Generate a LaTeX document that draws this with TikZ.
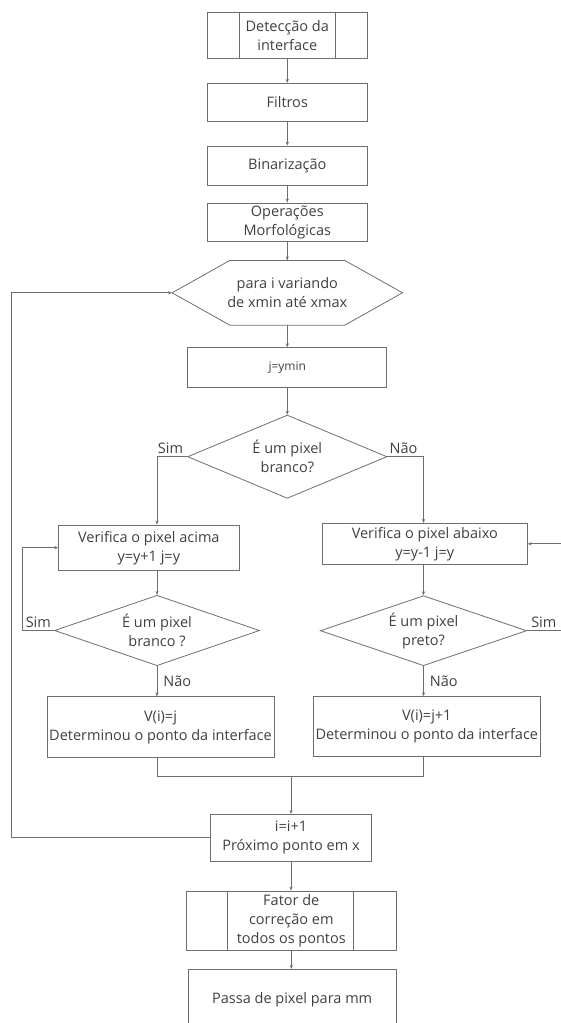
\documentclass[tikz,border=0pt]{standalone}
\usepackage{fontspec}
\setmainfont{Open Sans}
\usepackage{xcolor}
\usepackage{tikz}
\usetikzlibrary{shapes.geometric, arrows.meta, positioning}
\definecolor{LineGrey}{HTML}{6E6E6E}
\definecolor{TextGrey}{HTML}{404040}
\tikzset{
  box/.style={draw=LineGrey, line width=0.8pt, text=TextGrey, align=center, inner sep=2pt, font=\fontsize{14.5}{19}\selectfont},
  decision/.style={box, diamond, inner sep=0pt},
  plain/.style={text=TextGrey, align=center, inner sep=0pt, font=\fontsize{14.5}{19}\selectfont},
  lbl/.style={text=TextGrey, inner sep=1pt, font=\fontsize{14.5}{17}\selectfont},
  line/.style={draw=LineGrey, line width=0.8pt},
  arr/.style={line, -{Stealth[length=4pt,width=3.2pt]}}
}

\begin{document}
\begin{tikzpicture}[x=1pt, y=-1pt]
  \useasboundingbox (0,0) rectangle (561,1023);

  \node[box, minimum width=160pt, minimum height=46pt] (detect) at (287.3,35.3) {Detecção da\\interface};
  \node[box, minimum width=160pt, minimum height=38.4pt] (filtros) at (287.3,102.5) {Filtros};
  \node[box, minimum width=160pt, minimum height=39pt] (binar) at (287.3,165.5) {Binarização};
  \node[box, minimum width=160pt, minimum height=38.7pt] (morfo) at (287.3,222.3) {Operações\\Morfológicas};
  \node[plain, minimum width=230pt, minimum height=64.3pt] (hexa) at (287.3,292.8) {para i variando\\de xmin até xmax};
  \node[box, minimum width=199pt, minimum height=39.6pt, font=\fontsize{12}{14}\selectfont] (jmin) at (287.3,367.5) {j=ymin};
  \node[decision, aspect=2.4, minimum width=199.4pt, minimum height=83.3pt] (dec1) at (287.3,456.7) {É um pixel\\branco?};

  % ramo Sim
  \node[box, minimum width=180.3pt, minimum height=45.3pt] (acima) at (148.8,547.7) {Verifica o pixel acima\\y=y+1 j=y};
  \node[decision, aspect=2.9, minimum width=205pt, minimum height=70.4pt] (dec2) at (157,630.5) {É um pixel\\branco ?};
  \node[box, minimum width=227pt, minimum height=61pt] (vij) at (160.5,727.2) {V(i)=j\\Determinou o ponto da interface};

  % ramo Não
  \node[box, minimum width=205pt, minimum height=41pt] (abaixo) at (424.8,543.8) {Verifica o pixel abaixo\\y=y-1 j=y};
  \node[decision, aspect=2.9, minimum width=206.3pt, minimum height=70pt] (dec3) at (423.5,630.7) {É um pixel\\preto?};
  \node[box, minimum width=225pt, minimum height=60pt] (vij1) at (426.8,726.7) {V(i)=j+1\\Determinou o ponto da interface};

  \node[box, minimum width=160.3pt, minimum height=46.7pt] (proximo) at (291,837.7) {i=i+1\\Próximo ponto em x};
  \node[box, minimum width=209.3pt, minimum height=59.7pt] (fator) at (291.3,920.8) {Fator de\\correção em\\todos os pontos};
  \node[box, minimum width=207.7pt, minimum height=60pt] (passa) at (292.2,999.3) {Passa de pixel para mm};

  % formas
  \draw[line] (hexa.west) -- ([xshift=57.7pt]hexa.north west) -- ([xshift=-57.7pt]hexa.north east) -- (hexa.east)
    -- ([xshift=-57.7pt]hexa.south east) -- ([xshift=57.7pt]hexa.south west) -- cycle;
  \draw[line] ([xshift=32pt]detect.north west) -- ([xshift=32pt]detect.south west);
  \draw[line] ([xshift=-32pt]detect.north east) -- ([xshift=-32pt]detect.south east);
  \draw[line] ([xshift=41.6pt]fator.north west) -- ([xshift=41.6pt]fator.south west);
  \draw[line] ([xshift=-42.7pt]fator.north east) -- ([xshift=-42.7pt]fator.south east);

  \coordinate (lloop) at (11,0);
  \coordinate (sloop) at (22.7,0);
  \coordinate (rloop) at (572,0);
  \coordinate (merge) at (291,776.5);

  % ligacoes
  \draw[arr] (detect) -- (filtros);
  \draw[arr] (filtros) -- (binar);
  \draw[arr] (binar) -- (morfo);
  \draw[arr] (morfo) -- (hexa);
  \draw[arr] (hexa) -- (jmin);
  \draw[arr] (jmin) -- (dec1);
  \draw[arr] (dec1.west) -| (dec2.north |- acima.north);
  \draw[arr] (dec1.east) -| (dec3.north |- abaixo.north);
  \draw[arr] (acima.south -| dec2.north) -- (dec2.north);
  \draw[arr] (dec2.west) -- (dec2.west -| sloop) |- (acima.west);
  \draw[arr] (dec2.south) -- (dec2.south |- vij.north) node[lbl, midway, right=5pt] (nao2) {Não};
  \draw[arr] (abaixo.south -| dec3.north) -- (dec3.north);
  \draw[arr] (dec3.east) -- (dec3.east -| rloop) |- (abaixo.east);
  \draw[arr] (dec3.south) -- (dec3.south |- vij1.north) node[lbl, midway, right=5pt] (nao3) {Não};
  \draw[line] (vij.south -| dec2.south) |- (merge);
  \draw[line] (vij1.south -| dec3.south) |- (merge);
  \draw[arr] (merge) -- (merge |- proximo.north);
  \draw[arr] (proximo.west) -- (proximo.west -| lloop) |- (hexa.west);
  \draw[arr] (proximo.south) -- (proximo.south |- fator.north);
  \draw[arr] (fator.south) -- (fator.south |- passa.north);

  % rotulos
  \node[lbl, anchor=south east] (sim1) at ([xshift=-3pt,yshift=2pt]dec1.west) {Sim};
  \node[lbl, anchor=south west] (nao1) at ([xshift=1pt,yshift=2pt]dec1.east) {Não};
  \node[lbl, anchor=south east] (sim2) at ([xshift=-2pt,yshift=2pt]dec2.west) {Sim};
  \node[lbl, anchor=south west] (sim3) at ([xshift=3pt,yshift=2pt]dec3.east) {Sim};
\end{tikzpicture}
\end{document}
